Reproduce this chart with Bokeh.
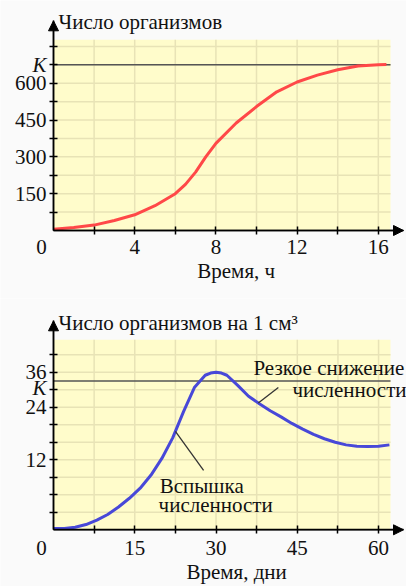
import numpy as np
from bokeh.plotting import figure
from bokeh.layouts import column
from bokeh.models import Range1d, FixedTicker, Label, Arrow, NormalHead, BoxAnnotation
from bokeh.embed import file_html
from bokeh.resources import INLINE

# ---- top chart data: population growth (hours vs organisms) ----
hours = [0, 1, 2, 3, 4, 5, 6, 6.5, 7, 7.5, 8, 9, 10, 11, 12, 13, 14, 15, 16, 16.4]
organisms = [5, 12, 22, 41, 64, 101, 150, 188, 238, 300, 355, 438, 505, 565, 605, 633, 655, 670, 675, 676]
K_top = 675
top_x_labeled = [4, 8, 12, 16]
top_x_labels = ["4", "8", "12", "16"]
top_x_ticks = [2, 4, 6, 8, 10, 12, 14, 16]
top_y_labeled = [150, 300, 450, 600]
top_y_labels = ["150", "300", "450", "600"]
top_y_ticks = [75, 150, 225, 300, 375, 450, 525, 600, 675, 750]
top_xmax, top_ymax = 16.6, 777

# ---- bottom chart data: density (days vs organisms per cm3) ----
days = [0, 2, 4, 6, 8, 10, 12, 14, 16, 18, 20, 22, 24, 26, 28, 29, 30, 31, 32, 34, 36,
        38, 40, 42, 44, 46, 48, 50, 52, 54, 56, 58, 60, 62]
density = [0.3, 0.3, 0.6, 1.2, 2.2, 3.5, 5.2, 7.2, 9.5, 12.5, 16.3, 21.0, 27.0, 32.5, 35.3,
           35.8, 36.0, 35.8, 35.3, 33.0, 30.5, 28.8, 27.2, 25.8, 24.3, 23.0, 21.8, 20.8,
           20.0, 19.4, 19.1, 19.0, 19.1, 19.4]
K_bot = 34
bot_x_labeled = [15, 30, 45, 60]
bot_x_labels = ["15", "30", "45", "60"]
bot_x_ticks = [7.5, 15, 22.5, 30, 37.5, 45, 52.5, 60]
bot_y_labeled = [16, 28, 36]
bot_y_labels = ["12", "24", "36"]
bot_y_ticks = [4, 8, 12, 16, 20, 24, 28, 32, 36, 40]
bot_xmax, bot_ymax = 62.2, 43.4

FONT = "'Liberation Serif'"
FS = "21px"
YELLOW = "#fffccb"
GRID = "#e8e3b6"
BORDER = "#fafafa"
TXT = "#111111"

W = 406
LEFT_PX = 53      # distance from canvas left to the y axis
FRAME_W = 337     # width of the yellow area


def lab(p, x, y, text, xo=0, yo=0, align="left", base="middle", italic=False):
    p.add_layout(Label(x=x, y=y, x_offset=xo, y_offset=yo, text=text,
                       text_font=FONT, text_font_size=FS, text_color=TXT,
                       text_align=align, text_baseline=base,
                       text_font_style="italic" if italic else "normal"))


def make_fig(height, below_px, yellow_h, tip_px, xmax, ymax, xticks, yticks,
             xlab_pos, xlab_txt, ylab_pos, ylab_txt, xlab_drop):
    ppx = FRAME_W / xmax
    ppy = yellow_h / ymax
    x0 = -LEFT_PX / ppx
    y0 = -below_px / ppy
    p = figure(width=W, height=height, output_backend="svg", toolbar_location=None,
               x_range=Range1d(x0, x0 + W / ppx), y_range=Range1d(y0, y0 + height / ppy),
               min_border=0)
    p.background_fill_color = BORDER
    p.border_fill_color = BORDER
    p.outline_line_color = None
    p.grid.visible = False
    x_tip = (W - 3 - LEFT_PX) / ppx
    y_tip = (yellow_h + tip_px) / ppy
    p.add_layout(BoxAnnotation(left=0, right=xmax, bottom=0, top=ymax, fill_color=YELLOW,
                               fill_alpha=1, line_color=None, level="image"))
    p.segment(x0=xticks, y0=[0] * len(xticks), x1=xticks, y1=[ymax] * len(xticks),
              line_color=GRID, line_width=1.5, level="underlay")
    p.segment(x0=[0] * len(yticks), y0=yticks, x1=[xmax] * len(yticks), y1=yticks,
              line_color=GRID, line_width=1.5, level="underlay")
    p.xaxis.ticker = FixedTicker(ticks=[], minor_ticks=xticks)
    p.yaxis.ticker = FixedTicker(ticks=[], minor_ticks=yticks)
    p.xaxis.fixed_location = 0
    p.yaxis.fixed_location = 0
    p.xaxis.bounds = (0, x_tip)
    p.yaxis.bounds = (0, y_tip)
    for ax in (p.xaxis, p.yaxis):
        ax.axis_line_color = "black"
        ax.axis_line_width = 1.5
        ax.minor_tick_in = 4
        ax.minor_tick_out = 4
        ax.minor_tick_line_color = "black"
        ax.minor_tick_line_width = 1.5
        ax.major_tick_line_color = None
    for xs, ys, xe, ye in ((0, 0, x_tip, 0), (0, 0, 0, y_tip)):
        p.add_layout(Arrow(end=NormalHead(size=10, fill_color="black", line_color="black"),
                           x_start=xs, y_start=ys, x_end=xe, y_end=ye,
                           line_color="black", line_width=1.5))
    # tick labels (library axes ignore the serif font here, so draw them as labels)
    for v, t in zip(xlab_pos, xlab_txt):
        lab(p, v, 0, t, yo=-xlab_drop, align="center")
    for v, t in zip(ylab_pos, ylab_txt):
        lab(p, 0, v, t, xo=-7, align="right")
    lab(p, 0, 0, "0", xo=-12, yo=-xlab_drop, align="center")
    return p


# ---------------- top figure ----------------
p1 = make_fig(298, 68, 190.7, 19, top_xmax, top_ymax, top_x_ticks, top_y_ticks,
              top_x_labeled, top_x_labels, top_y_labeled, top_y_labels, 16)
p1.segment(x0=[0], y0=[K_top], x1=[top_xmax], y1=[K_top], line_color="#555555", line_width=1.5)
p1.line(hours, organisms, line_color="#ff4848", line_width=3, line_join="round")
lab(p1, 0, 0, "Число организмов", xo=5, yo=209)
lab(p1, 9.0, 0, "Время, ч", yo=-40, align="center")
lab(p1, 0, K_top, "K", xo=-7, align="right", italic=True)

# ---------------- bottom figure ----------------
p2 = make_fig(288, 56.7, 190, 19, bot_xmax, bot_ymax, bot_x_ticks, bot_y_ticks,
              bot_x_labeled, bot_x_labels, bot_y_labeled, bot_y_labels, 18)
p2.segment(x0=[0], y0=[K_bot], x1=[bot_xmax], y1=[K_bot], line_color="#555555", line_width=1.5)
p2.line(days, density, line_color="#4848d8", line_width=3, line_join="round")

# leader lines for annotations (start on the curve)
lead_x0 = [22.5, 37.8]
lead_x1 = [27.7, 41.5]
lead_y1 = [13.6, 32.5]
lead_y0 = [float(np.interp(v, days, density)) for v in lead_x0]
p2.segment(x0=lead_x0, y0=lead_y0, x1=lead_x1, y1=lead_y1, line_color="#333333", line_width=1.3)

lab(p2, 0, 0, "Число организмов на 1 см³", xo=5, yo=207)
lab(p2, 33.8, 0, "Время, дни", yo=-42, align="center")
lab(p2, 0, K_bot, "K", xo=-7, yo=-7, align="right", italic=True)
lab(p2, 36.9, 36.9, "Резкое снижение")
lab(p2, 44.1, 31.9, "численности")
lab(p2, 19.6, 10.1, "Вспышка")
lab(p2, 19.4, 5.6, "численности")

layout = column(p1, p2, spacing=0)
open("out.html", "w").write(file_html(layout, INLINE))
